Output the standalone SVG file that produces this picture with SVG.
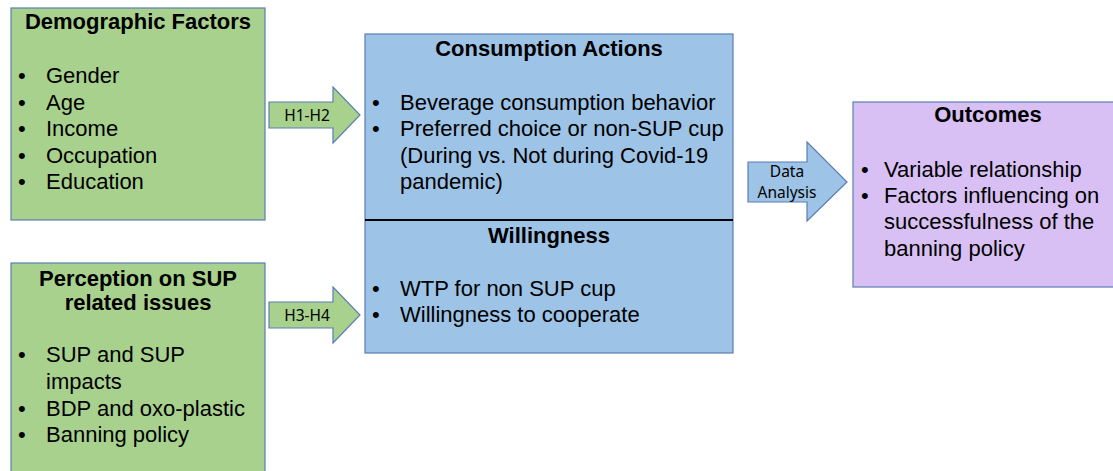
<svg xmlns="http://www.w3.org/2000/svg" width="1113" height="471" viewBox="0 0 1113 471">
<style>
  .g { fill: #A9D18E; stroke: #5A7EB5; stroke-width: 1.2; }
  .b { fill: #9DC3E6; stroke: #5A7EB5; stroke-width: 1.2; }
  .p { fill: #D8C0F5; stroke: #5A7EB5; stroke-width: 1.2; }
  .t { font-family: "Liberation Sans", Arial, sans-serif; font-size: 22px; font-weight: bold; fill: #000; text-anchor: middle; }
  .x { font-family: "Liberation Sans", Arial, sans-serif; font-size: 22px; fill: #000; }
  .a { font-family: "Noto Sans", "Open Sans", sans-serif; font-size: 15.5px; fill: #000; text-anchor: middle; }
</style>
<rect width="1113" height="471" fill="#fff"/>

<g id="demographic">
  <rect class="g" x="11" y="8" width="254" height="212"/>
  <text class="t" x="138" y="29">Demographic Factors</text>
  <g class="x">
    <text x="18" y="83">•</text><text x="46" y="83">Gender</text>
    <text x="18" y="110">•</text><text x="46" y="110">Age</text>
    <text x="18" y="136">•</text><text x="46" y="136">Income</text>
    <text x="18" y="163">•</text><text x="46" y="163">Occupation</text>
    <text x="18" y="189">•</text><text x="46" y="189">Education</text>
  </g>
</g>

<g id="perception">
  <rect class="g" x="11" y="263" width="254" height="220"/>
  <text class="t" x="138" y="286">Perception on SUP</text>
  <text class="t" x="138" y="310">related issues</text>
  <g class="x">
    <text x="18" y="362">•</text><text x="46" y="362">SUP and SUP</text>
    <text x="46" y="389">impacts</text>
    <text x="18" y="416">•</text><text x="46" y="416">BDP and oxo-plastic</text>
    <text x="18" y="442">•</text><text x="46" y="442">Banning policy</text>
  </g>
</g>

<g id="consumption">
  <rect class="b" x="365" y="34" width="368" height="319"/>
  <line x1="365" y1="220" x2="733" y2="220" stroke="#000" stroke-width="2.2"/>
  <text class="t" x="549" y="56">Consumption Actions</text>
  <g class="x">
    <text x="372" y="109.5">•</text><text x="400" y="109.5">Beverage consumption behavior</text>
    <text x="372" y="136">•</text><text x="400" y="136">Preferred choice or non-SUP cup</text>
    <text x="400" y="162.5">(During vs. Not during Covid-19</text>
    <text x="400" y="189">pandemic)</text>
  </g>
  <text class="t" x="549" y="243">Willingness</text>
  <g class="x">
    <text x="372" y="295.5">•</text><text x="400" y="295.5">WTP for non SUP cup</text>
    <text x="372" y="322">•</text><text x="400" y="322">Willingness to cooperate</text>
  </g>
</g>

<g id="outcomes">
  <rect class="p" x="853" y="102" width="272" height="185"/>
  <text class="t" x="988" y="122">Outcomes</text>
  <g class="x">
    <text x="861" y="176.5">•</text><text x="884" y="176.5">Variable relationship</text>
    <text x="861" y="203">•</text><text x="884" y="203">Factors influencing on</text>
    <text x="884" y="229">successfulness of the</text>
    <text x="884" y="255.5">banning policy</text>
  </g>
</g>

<g id="connectors">
  <g id="arrow-h1h2">
    <polygon class="g" points="269,102 333,102 333,87 360,115 333,143 333,128 269,128"/>
    <text class="a" x="307" y="120.5">H1-H2</text>
  </g>
  <g id="arrow-h3h4">
    <polygon class="g" points="269,302 333,302 333,287 360,315 333,343 333,328 269,328"/>
    <text class="a" x="307" y="320.5">H3-H4</text>
  </g>
  <g id="arrow-analysis">
    <polygon class="b" points="748,162 807,162 807,142 847,182 807,221 807,202 748,202"/>
    <text class="a" x="787" y="176.5">Data</text>
    <text class="a" x="787" y="197.5">Analysis</text>
  </g>
</g>
</svg>
